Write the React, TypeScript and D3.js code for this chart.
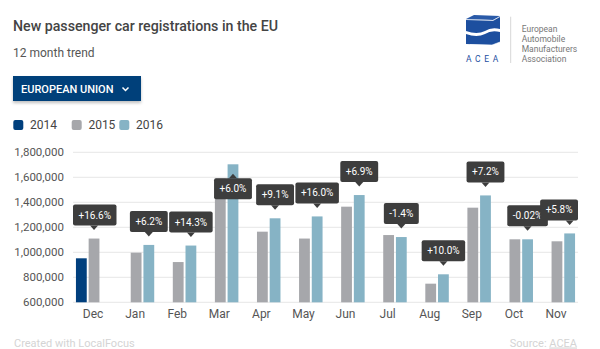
import React from "react";
import * as d3 from "d3";

const months = ["Dec", "Jan", "Feb", "Mar", "Apr", "May", "Jun", "Jul", "Aug", "Sep", "Oct", "Nov"];
const years = ["2014", "2015", "2016"];
const values2014 = [952000, null, null, null, null, null, null, null, null, null, null, null];
const values2015 = [1110000, 997000, 922000, 1590000, 1165000, 1110000, 1365000, 1138000, 749000, 1357000, 1104000, 1088000];
const values2016 = [null, 1059000, 1054000, 1704000, 1272000, 1287000, 1458000, 1122000, 824000, 1455000, 1104000, 1151000];
const changes = ["+16.6%", "+6.2%", "+14.3%", "+6.0%", "+9.1%", "+16.0%", "+6.9%", "-1.4%", "+10.0%", "+7.2%", "-0.02%", "+5.8%"];
const colors = ["#003f7d", "#a6a7ab", "#86b3c5"];

const W = 600, H = 349;
const plotL = 73, plotR = 578, plotT = 152.3, plotB = 302.3;
const FONT = "Roboto, 'Noto Sans', sans-serif";

let ctx: CanvasRenderingContext2D | null = null;
function textW(t: string, size: number) {
  if (!ctx) {
    const c = document.createElement("canvas");
    ctx = c.getContext("2d");
  }
  if (!ctx) return t.length * size * 0.55;
  ctx.font = `${size}px Roboto`;
  return ctx.measureText(t).width;
}

export default function App() {
  const y = d3.scaleLinear().domain([600000, 1800000]).range([plotB, plotT]);
  const x0 = d3.scaleBand<string>().domain(months).range([plotL, plotR]).paddingInner(0.14).paddingOuter(0.07);
  const x1 = d3.scaleBand<string>().domain(years).range([0, x0.bandwidth()]).paddingInner(0.15).paddingOuter(0);
  const series = [values2014, values2015, values2016];
  const fmt = d3.format(",");
  const ticks = y.ticks(6);

  const bars: any[] = [];
  series.forEach((vals, si) => {
    vals.forEach((v, mi) => {
      if (v == null) return;
      const bx = (x0(months[mi]) as number) + (x1(years[si]) as number);
      bars.push({ key: `${si}-${mi}`, x: bx, y: y(v), w: x1.bandwidth(), h: plotB - y(v), c: colors[si] });
    });
  });

  const tips = months.map((m, mi) => {
    const useSi = values2016[mi] != null ? 2 : 1;
    const v = (series[useSi][mi]) as number;
    const cx = (x0(m) as number) + (x1(years[useSi]) as number) + x1.bandwidth() / 2;
    const top = y(v);
    const label = changes[mi];
    const bw = textW(label, 10) + 11;
    const bh = 21;
    let bx = cx - bw / 2;
    if (bx + bw > plotR) bx = plotR - bw;
    if (bx < plotL) bx = plotL;
    let by = top - 34;
    let flipped = false;
    if (by < plotT) { by = top + 14; flipped = true; }
    const tri = flipped
      ? `M${cx - 4},${by} L${cx},${by - 4.5} L${cx + 4},${by} Z`
      : `M${cx - 4},${by + bh} L${cx},${by + bh + 4.5} L${cx + 4},${by + bh} Z`;
    return { mi, bx, by, bw, bh, tri, label };
  });

  return (
    <svg width={W} height={H} style={{ position: "absolute", left: 0, top: 0, fontFamily: FONT }}>
      <defs>
        <filter id="sh" x="-10%" y="-20%" width="120%" height="160%">
          <feDropShadow dx="0" dy="2" stdDeviation="1.5" floodColor="#000" floodOpacity="0.25" />
        </filter>
      </defs>
      <rect width={W} height={H} fill="#fff" />
      <text x={13} y={30.7} fontSize={14.2} fontWeight={500} fill="#444">New passenger car registrations in the EU</text>
      <text x={13} y={56.7} fontSize={12} fill="#555">12 month trend</text>

      <rect x={13} y={76} width={128} height={25} fill="#003f7a" filter="url(#sh)" />
      <text x={21} y={92.8} fontSize={11} fill="#fff" fontWeight={500}>EUROPEAN UNION</text>
      <path d="M122.5,87.5 L125.5,90.5 L128.5,87.5" fill="none" stroke="#fff" strokeWidth={1.5} />

      {years.map((yr, i) => {
        const lx = [13.3, 71.7, 119.3][i];
        return (
          <g key={yr}>
            <rect x={lx} y={120} width={10} height={10} rx={2} fill={colors[i]} />
            <text x={lx + 16.7} y={129.3} fontSize={12} fill="#444">{yr}</text>
          </g>
        );
      })}

      {/* logo */}
      <g>
        <path d="M466,19 L474,15 L500,16 L493,20 Z" fill="#2a5aa8" />
        <path d="M466,19 L493,20 L500,16 L500,29 Q491,27 485,31 Q477,35 466,31 Z" fill="#1d4f9f" />
        <path d="M466,19.5 L493,20.5 L500,16.5" fill="none" stroke="#fff" strokeWidth={0.8} />
        <path d="M466,34 Q477,38 485,34 Q491,30 500,32 L500,42 L492,45 L466,44 Z" fill="#1d4f9f" />
        <path d="M470,44.5 L492,45 L500,42" fill="none" stroke="#fff" strokeWidth={0.6} />
        <text x={466} y={62.3} fontSize={8.5} fill="#1d4f9f" letterSpacing={3.6}>ACEA</text>
        <line x1={510.7} x2={510.7} y1={16.7} y2={63} stroke="#ccc" strokeWidth={0.8} />
        {["European", "Automobile", "Manufacturers", "Association"].map((t, i) => (
          <text key={t} x={521.7} y={32.3 + i * 10} fontSize={8.5} fill="#777">{t}</text>
        ))}
      </g>

      {ticks.map((t) => (
        <g key={t}>
          <line x1={plotL} x2={plotR} y1={y(t)} y2={y(t)} stroke="#e6e6e6" strokeWidth={1} />
          <text x={64} y={y(t)} dy="0.35em" textAnchor="end" fontSize={11.5} fill="#555">{fmt(t)}</text>
        </g>
      ))}

      {bars.map((b) => (
        <rect key={b.key} x={b.x} y={b.y} width={b.w} height={b.h} fill={b.c} />
      ))}

      {months.map((m) => (
        <text key={m} x={(x0(m) as number) + x0.bandwidth() / 2 - 1} y={318.3} textAnchor="middle" fontSize={12} fill="#555">{m}</text>
      ))}

      {tips.map((t) => (
        <g key={t.mi}>
          <rect x={t.bx} y={t.by} width={t.bw} height={t.bh} rx={2} fill="#3d3d3d" />
          <path d={t.tri} fill="#3d3d3d" />
          <text x={t.bx + t.bw / 2} y={t.by + t.bh / 2} dy="0.35em" textAnchor="middle" fontSize={10} fill="#fff">{t.label}</text>
        </g>
      ))}

      <text x={14} y={346.5} fontSize={11} fill="#d4d4d4">Created with LocalFocus</text>
      <text x={577} y={346.5} fontSize={11} fill="#d4d4d4" textAnchor="end">
        Source: <tspan textDecoration="underline">ACEA</tspan>
      </text>
    </svg>
  );
}
